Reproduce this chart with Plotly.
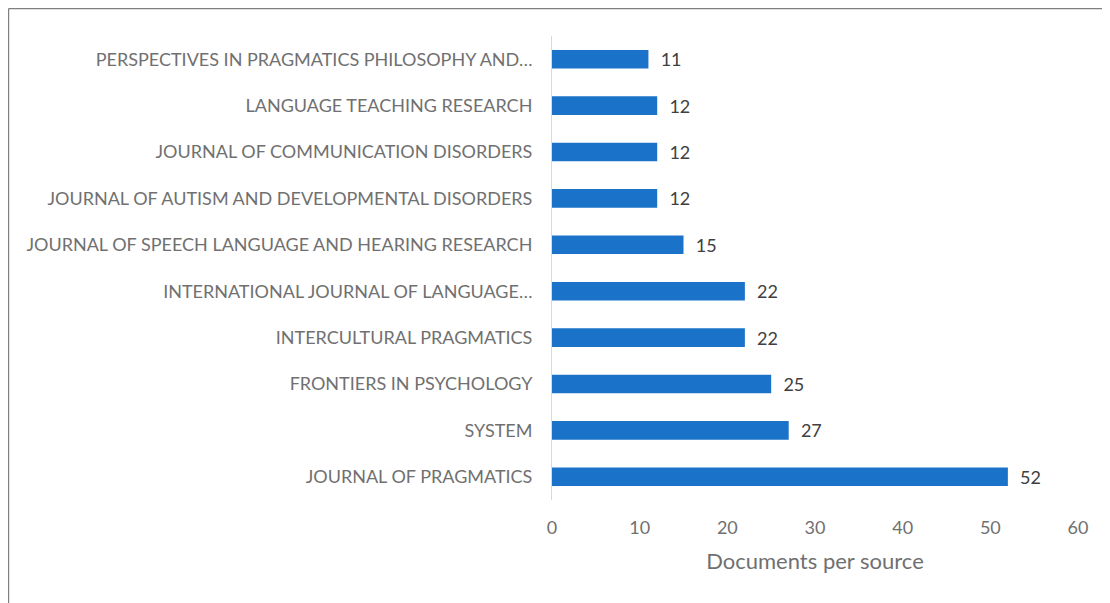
import plotly.graph_objects as go

sources = [
    "JOURNAL OF PRAGMATICS",
    "SYSTEM",
    "FRONTIERS IN PSYCHOLOGY",
    "INTERCULTURAL PRAGMATICS",
    "INTERNATIONAL JOURNAL OF LANGUAGE…",
    "JOURNAL OF SPEECH LANGUAGE AND HEARING RESEARCH",
    "JOURNAL OF AUTISM AND DEVELOPMENTAL DISORDERS",
    "JOURNAL OF COMMUNICATION DISORDERS",
    "LANGUAGE TEACHING RESEARCH",
    "PERSPECTIVES IN PRAGMATICS PHILOSOPHY AND…",
]
documents = [52, 27, 25, 22, 22, 15, 12, 12, 12, 11]
x_ticks = [0, 10, 20, 30, 40, 50, 60]
x_title = "Documents per source"

TEXT = "#707070"
FONT = "Lato, 'Open Sans', sans-serif"

W, H = 1102, 595
L, R, T, B = 544, 32, 28, 103
pw = W - L - R
ph = H - T - B

bx0 = (0.6 - L) / pw
by1 = 1 + (T - 0.6) / ph
border = dict(color="#7f7f7f", width=1.2)

fig = go.Figure(go.Bar(
    x=documents,
    y=sources,
    orientation="h",
    marker=dict(color="#1a73c8", line=dict(width=0)),
    width=0.4,
    text=documents,
    texttemplate="  %{x}",
    textposition="outside",
    constraintext="none",
    textfont=dict(color="#404040", size=18, family=FONT),
    cliponaxis=False,
))

fig.update_layout(
    width=W,
    height=H,
    margin=dict(l=L, r=R, t=T, b=B),
    plot_bgcolor="white",
    paper_bgcolor="white",
    showlegend=False,
    font=dict(family=FONT, color=TEXT, size=18),
    xaxis=dict(
        range=[0, 60],
        tickvals=x_ticks,
        showgrid=False,
        zeroline=False,
        showline=False,
        ticks="",
        ticklabelstandoff=15,
        tickfont=dict(size=18, color=TEXT),
        title=dict(text=x_title, font=dict(size=22, color=TEXT), standoff=16),
    ),
    yaxis=dict(
        showgrid=False,
        zeroline=False,
        showline=True,
        linecolor="#d9d9d9",
        linewidth=1,
        ticks="",
        ticklabelstandoff=15,
        tickfont=dict(size=18, color=TEXT),
    ),
    shapes=[
        dict(type="line", xref="paper", yref="paper",
             x0=bx0, x1=1 + (R + 10) / pw, y0=by1, y1=by1,
             line=border, layer="above"),
        dict(type="line", xref="paper", yref="paper",
             x0=bx0, x1=bx0, y0=by1, y1=-(B + 10) / ph,
             line=border, layer="above"),
    ],
)

fig.write_html(
    "out.html",
    post_script="document.documentElement.style.overflow='hidden';document.body.style.overflow='hidden';",
)
